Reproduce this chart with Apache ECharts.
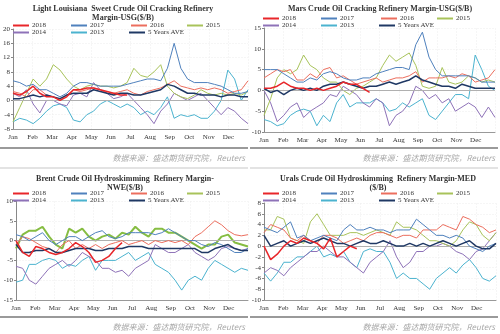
<!DOCTYPE html>
<html><head><meta charset="utf-8">
<script src="https://cdn.jsdelivr.net/npm/echarts@6/dist/echarts.min.js"></script>
<style>html,body{margin:0;padding:0;background:#fff}#c{width:500px;height:334px}</style>
</head><body><div id="c"></div>
<script>
const months = ['Jan','Feb','Mar','Apr','May','Jun','Jul','Aug','Sep','Oct','Nov','Dec'];
const seriesNames = ['2018','2017','2016','2015','2014','2013','5 Years AVE'];

// Panel 1: Light Louisiana Sweet (USG)
const p1_2018 = [2,1.5,2.5, 4,2,1, 1,0,1, 3,3,3.5, 3.5,3,2.5, 2,1.5,1.5];
const p1_2017 = [5.5,5,4, 4.5,3,3, 2,1,2, 4,5,5, 4.5,4,4, 4,4,4.5, 5,5.5,6, 6,5.5,9, 16,9,6, 5,5,5, 4.5,4,3, 2,2,2.5];
const p1_2016 = [2.5,2,1, 3,3,1.5, 1,0,1.5, 3,2.5,3, 3.5,3,2, 2,2.5,3, 2,1.5,2.5, 3,3.5,4.5, 5.5,4,3.5, 3,3.5,3, 3.5,3,2, 2.5,3,5.5];
const p1_2015 = [-6,-2,2, 6,4,6, 10,8.5,6, 4,3,4, 4.5,4,4, 3.5,4,5, 9,7,6.5, 8,10,4, 2,1,0.5, 1.5,3,2, 1.5,2,1.5, 2,1.5,2.5];
const p1_2014 = [2,1,3, -1,-3.5,0, 0,-1,-1.5, 1.5,2,1, 5,3,2, 0.5,1,2, 0,-2,-4, -6.5,-3,-1, 2,1,0, 1,2,0, -2,-4,-2, -3,-5,-6.5];
const p1_2013 = [-6,-5,-5.5, -6.5,-5,-3, -1.5,-1,-2, -5.5,-6,-4, -3,-1,0, -1,-2,-1, -2,-4,-3, -4,-2,1, -5,-4,-4.5, -4,-5,-5, -3,0,8.5, 6,0,3];
const p1_avg  = [0.5,0.5,1, 1.5,1,1.5, 1,0.5,1.5, 2,2,2, 3,2.5,2, 1.5,2,2, 1.5,1.5,2, 2.5,3,4.5, 4,3,2, 2,1.5,1.5, 1.5,1,1.5, 1.5,1,1];

// Panel 2: Mars (USG)
const p2_2018 = [0.5,0.5,1, 2,1,0.5, 0.5,0,0.5, 0,0.5,1, 2,1.5,1.5, 0.5,-0.5];
const p2_2017 = [5,5,5, 4,3,2, 2,3,2.5, 4,4.5,4, 3,2.5,2.5, 3,3,4, 4.5,5,5.5, 5.5,5,11, 14,8,5, 3.5,3.5,3.5, 3.5,3.5,3, 2,2,2];
const p2_2016 = [3,4,5, 4.5,5,2.5, 2.5,4,3, 5,5.5,3, 3.5,2.5,1.5, 2,2.5,3, 2,2.5,3, 3,3.5,4.5, 2,3,3, 3,3.5,3, 4,3.5,2, 2.5,3,5];
const p2_2015 = [-6,-2,3, 5,4,5, 8.5,6,5, 3,2,2, 0,-1,0.5, 1,2,3, 6,8.5,7, 8,9,6, 1,0.5,1, 5.5,2,1.5, 2,3.5,3, 2,2.5,2];
const p2_2014 = [0,-3,-7.5, -6,-4,-3, -6.5,-5,-4, -3,-1,-1.5, 1,0,-1, -3,-4,-2, -3,-8.5,-6, -5,-3,1, 0,-2,-1, -3,-2,-5, -4,-3,-4, -6.5,-4,-6.5];
const p2_2013 = [-7,-7.5,-8.5, -8,-6,-5, -4.5,-5,-8.5, -6,-7.5,-3, -1,-4,-3, -3,-3,-2, -3,-5,-4.5, -3,-4,-3, -2,-6,-7, -5,-3,-1, -1,-2,8.5, 5,1,0];
const p2_avg  = [0.5,-0.5,0, -1,0,0.5, 0,0.5,0, 1,1.5,1.5, 2,1.5,1, 0.5,1,1, 1.5,2,1.5, 2,2.5,3.5, 2.5,2,1.5, 1,1,0.5, 1.5,1,0.5, 0.5,0.5,0.5];

// Panel 3: Brent (NWE)
const p3_2018 = [0,-3,-4, -1.5,-2,-3, -3.5,-3,-2, -0.5,-1.5,-3, -5.5,-5,-4, -2,-0.5];
const p3_2017 = [1.5,1,0, 1,2,0, -1,0,1, 1,0,1, 2,2.5,1, 0.5,1,2, 2,2,2, 1.5,2,3, 2,1,0, 0,-1,-1.5, -0.5,-1,-2, -3,-3,-2];
const p3_2016 = [-1,1,0.5, -0.5,-1.5,-2, -3,-1,0, -2,-1,-2, -1,-2,-1, -0.5,0,-1, -0.5,0,-1, 0,-0.5,0, -0.5,0,-1, 1,2,3.5, 5,4,2.5, 1.5,1.2,1.5];
const p3_2015 = [-2,1.5,2.5, 2.5,3.5,1, -1,-2,3, 2,3,1, 0,1,1.5, 0.5,2,1.5, 3.5,2,1, 3,3,2, 2,1,0, -1,-2,-1, -1,1,1.5, -0.5,-1,-1.5];
const p3_2014 = [-6.5,-7,-10, -11,-9,-7, -6,-5,-6.5, -5,-3,-4, -5,-7,-7, -8,-7.5,-9, -7,-6,-5, -1,-2,-3, -3,-2,-1, -3,-4,-5, -4,-2,-1.5, -2,-2.5,-2];
const p3_2013 = [-10.5,-10,-6, -6,-5,-4.5, -5,-7,-6, -6.5,-5,-4, -7.5,-5,-5, -5,-4,-3, -5,-4,-3, -6,-7,-8, -10,-12.5,-10, -9,-10,-7, -5,-6,-7, -8,-7,-7.5];
const p3_avg  = [-1,-3,-3, -2.5,-2.5,-2, -3,-3,-2.5, -2,-2,-2, -2.5,-2.5,-2, -2,-2,-1.5, -1.5,-1.5,-2, -2,-2,-2, -2,-2,-2, -2,-3,-3, -2,-1.5,-1, -2,-2.5,-2.5];

// Panel 4: Urals (MED)
const p4_2018 = [0,-2.5,-1.5, 0,1,0.5, 1.5,1,0.5, -0.5,1.5,-2, -1,0,-0.5];
const p4_2017 = [3.5,3,2.5, 3.5,4.5,1.5, 2,1,1.5, 2,1.5,1, 3,4,3, 3,3.5,3, 3,2.5,3, 3,3,5, 4,3,2, 2,1.5,2, 1.5,0,-0.5, -1,0,0.5];
const p4_2016 = [2.5,4,3.5, 3,1.5,1, 2,1,0.5, 2,2,1.5, 0.5,1,1.5, 1,2,2.5, 2.5,2,1.5, 2,2,1.5, 3,3,3, 4,3.5,3, 5.5,5,4, 3.5,2.5,3];
const p4_2015 = [3,3,5.5, 5,1.5,1, 0.5,4.5,6, 4,2,2, 2,2.5,2.5, 2,2.5,3, 2.5,2,4.5, 3.5,3.5,3, 2,1,1, 0.5,0,1, 3,4.5,4, 2,1,2.5];
const p4_2014 = [-5,-4,-4.5, -5.5,-4,-3, -2,-1,-1, 0,-1,-2, -2,-3,-4, -5,-3,-2, -1,1,-2, -4,-3,-1, -1,0,0, 0.5,0,-1, -1.5,-2.5,-1, -0.5,1,2.5];
const p4_2013 = [-5,-6.5,-5, -3,-3,-2, -2,-1,0, -2,-1.5,-2, -1,-3,-4, -1,-0.5,-1, -1,-3,-6, -5,-6,-6, -7,-8,-6, -5,-4,-5, -3.5,-2.5,-4, -6,-6.5,-5.5];
const p4_avg  = [2,0,0.5, 1,0,0.5, 1,0.5,1, 1.5,1,0.5, 0.5,0,0.5, 1,0.5,0.5, 1,0.5,0, 0,0.5,0, 0.5,0,0.5, 1,0.5,0, 0.5,1,0, -0.5,-0.5,0.5];

const yTicks = [
  {min:-8, max:20, interval:4},
  {min:-10, max:15, interval:5},
  {min:-15, max:10, interval:5},
  {min:-10, max:8, interval:2}
];
const titles = [
  ['Light Louisiana  Sweet Crude Oil Cracking Refinery','Margin-USG($/B)'],
  ['Mars Crude Oil Cracking Refinery Margin-USG($/B)'],
  ['Brent Crude Oil Hydroskimming  Refinery Margin-','NWE($/B)'],
  ['Urals Crude Oil Hydroskimming  Refinery Margin-MED','($/B)']
];
const sourceText = '数据来源：盛达期货研究院，Reuters';

const panelData = [
  [p1_2018,p1_2017,p1_2016,p1_2015,p1_2014,p1_2013,p1_avg],
  [p2_2018,p2_2017,p2_2016,p2_2015,p2_2014,p2_2013,p2_avg],
  [p3_2018,p3_2017,p3_2016,p3_2015,p3_2014,p3_2013,p3_avg],
  [p4_2018,p4_2017,p4_2016,p4_2015,p4_2014,p4_2013,p4_avg]
];

// ---- layout / style ----
const colors = ['#e8262a','#4f81bd','#ec6e5e','#a8c35a','#8e72b8','#4bb3cf','#1f3864'];
const widths = [1.5,1,1,1,1,1,1.5];
const layout = [
  {x0:0,   grid:{left:13, top:29, width:235, height:100}, t:[9,18],  tx:123, lg:[26,33], sep:148, src:158},
  {x0:250, grid:{left:264,top:28, width:231, height:104}, t:[9],     tx:380, lg:[19,26], sep:148, src:158},
  {x0:0,   grid:{left:16, top:201,width:232, height:99},  t:[179,188],tx:125, lg:[194,201], sep:317, src:327},
  {x0:250, grid:{left:264,top:203,width:232, height:97},  t:[179,188],tx:378, lg:[194,201], sep:317, src:327}
];
const col1 = [13,71,131,187], col2 = [13,71,129];
const serif = '"Liberation Serif","DejaVu Serif",serif';

const grids=[], xAxes=[], yAxes=[], series=[], legends=[], graphics=[];
const drawOrder = [5,4,3,2,1,6,0];
layout.forEach((L,k)=>{
  grids.push(Object.assign({containLabel:false}, L.grid));
  xAxes.push({type:'value', gridIndex:k, min:0, max:12, interval:1,
    axisLine:{show:true,onZero:false,lineStyle:{color:'#999',width:1}},
    axisTick:{show:false},
    axisLabel:{fontSize:7, fontFamily:serif, color:'#333', margin:5,
      formatter:v=> (v>=0 && v<12) ? months[v] : ''},
    splitLine:{show:true, lineStyle:{color:'#ececec', type:'dashed', width:0.5}}});
  yAxes.push(Object.assign({type:'value', gridIndex:k,
    axisLine:{show:true,lineStyle:{color:'#888',width:1}},
    axisTick:{show:true,length:2,lineStyle:{color:'#888'}},
    axisLabel:{fontSize:7, fontFamily:serif, color:'#333', margin:3},
    splitLine:{show:true, lineStyle:{color:'#ececec', type:'dashed', width:0.5}}}, yTicks[k]));
  drawOrder.forEach((si,idx)=>{
    const arr = panelData[k][si];
    const s = {type:'line', name:seriesNames[si], xAxisIndex:k, yAxisIndex:k,
      data: arr.map((v,i)=>[i*12/35, v]), showSymbol:false, symbol:'none',
      lineStyle:{color:colors[si], width:(k===2 && si===3)?2:widths[si]},
      itemStyle:{color:(k===2 && si===3)?'#86bd42':colors[si]},
      silent:true, z: 2+idx};
    if (k===2 && si===3) s.lineStyle.color = '#86bd42';
    if (idx===0) s.markLine = {silent:true, symbol:'none', label:{show:false},
      lineStyle:{color:'#b0b0b0', type:'solid', width:1}, data:[{yAxis:0}]};
    series.push(s);
  });
  // legends
  seriesNames.forEach((n,si)=>{
    const row = si<4 ? 0 : 1;
    const left = L.x0 + (row===0 ? col1[si] : col2[si-4]);
    legends.push({show:true, data:[n], left:left, top:L.lg[row]-4, padding:0,
      icon:'rect', itemWidth:16, itemHeight:2, itemGap:0, selectedMode:false,
      textStyle:{fontSize:7, fontFamily:serif, color:'#333', padding:[0,0,0,-2]}});
  });
  // titles
  titles[k].forEach((t,j)=>{
    graphics.push({type:'text', x:L.tx, y:L.t[j], style:{text:t, align:'center', verticalAlign:'middle',
      font:'bold 8px '+serif, fill:'#333'}});
  });
  // separators and source
  graphics.push({type:'rect', shape:{x:L.x0, y:L.sep-1, width:248, height:2}, style:{fill:'#9a9a9a'}});
  graphics.push({type:'text', x:L.x0+245, y:L.src, style:{text:sourceText, align:'right', verticalAlign:'middle',
    font:'italic 8px "Noto Sans CJK SC","Noto Sans",sans-serif', fill:'#a8a8a8'}});
  if (k<2) graphics.push({type:'rect', shape:{x:L.x0, y:167.5, width:248, height:1}, style:{fill:'#c8c8c8'}});
});

const chart = echarts.init(document.getElementById('c'), null, {renderer:'canvas'});
chart.setOption({animation:false, backgroundColor:'#fff', grid:grids, xAxis:xAxes, yAxis:yAxes,
  legend:legends, series:series, graphic:graphics});
</script></body></html>
